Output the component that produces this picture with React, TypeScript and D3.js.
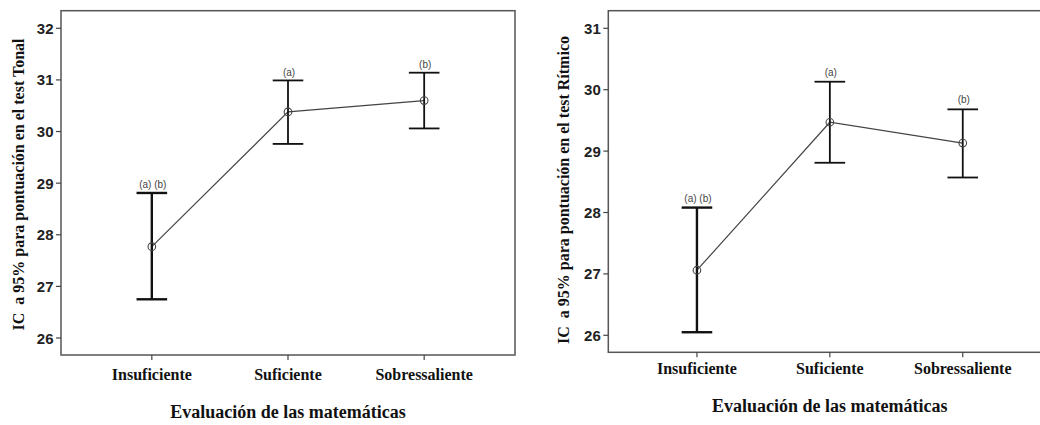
import React from "react";
import * as d3 from "d3";

const categories = ["Insuficiente", "Suficiente", "Sobressaliente"];

// Tonal test
const tonalMean = [27.77, 30.38, 30.6];
const tonalLower = [26.75, 29.76, 30.06];
const tonalUpper = [28.81, 30.99, 31.14];
const tonalLabels = ["(a) (b)", "(a)", "(b)"];
const tonalTicks = [26, 27, 28, 29, 30, 31, 32];

// Rhythmic test
const ritmoMean = [27.06, 29.47, 29.13];
const ritmoLower = [26.05, 28.81, 28.57];
const ritmoUpper = [28.08, 30.13, 29.68];
const ritmoLabels = ["(a) (b)", "(a)", "(b)"];
const ritmoTicks = [26, 27, 28, 29, 30, 31];

const xTitle = "Evaluación de las matemáticas";
const yTitleTonal = "IC  a 95% para pontuación en el test Tonal";
const yTitleRitmo = "IC  a 95% para pontuación en el test Rítmico";

const SERIF = "'Liberation Serif', 'Times New Roman', serif";
const SANS = "'Liberation Sans', Arial, sans-serif";

type PanelProps = {
  left: number;
  right: number;
  top: number;
  bottom: number;
  yDomain: [number, number];
  yRange: [number, number];
  ticks: number[];
  mean: number[];
  lower: number[];
  upper: number[];
  labels: string[];
  labelOffset: number;
  yTitle: string;
  yTitleX: number;
  yTitleY: number;
  xLabelY: number;
  xTitleY: number;
};

function Panel(p: PanelProps) {
  const x = d3.scalePoint<string>().domain(categories).range([p.left, p.right]).padding(0.667);
  const y = d3.scaleLinear().domain(p.yDomain).range(p.yRange);
  const line = d3
    .line<number>()
    .x((_, i) => x(categories[i]) as number)
    .y((d) => y(d));
  const cap = 15.3;
  const xMid = (p.left + p.right) / 2;
  return (
    <g>
      <rect
        x={p.left}
        y={p.top}
        width={p.right - p.left}
        height={p.bottom - p.top}
        fill="none"
        stroke="#555"
        strokeWidth={1.5}
      />
      {p.ticks.map((t) => (
        <g key={t}>
          <line x1={p.left - 5} x2={p.left} y1={y(t)} y2={y(t)} stroke="#444" strokeWidth={1.2} />
          <text
            x={p.left - 7.5}
            y={y(t)}
            textAnchor="end"
            dominantBaseline="central"
            fontFamily={SANS}
            fontWeight="bold"
            fontSize={15}
            fill="#222"
          >
            {t}
          </text>
        </g>
      ))}
      {categories.map((c) => (
        <g key={c}>
          <line x1={x(c)} x2={x(c)} y1={p.bottom} y2={p.bottom + 5} stroke="#444" strokeWidth={1.2} />
          <text
            x={x(c)}
            y={p.xLabelY}
            textAnchor="middle"
            fontFamily={SERIF}
            fontWeight="bold"
            fontSize={16}
            fill="#111"
          >
            {c}
          </text>
        </g>
      ))}
      <path d={line(p.mean) || ""} fill="none" stroke="#444" strokeWidth={1.2} />
      {categories.map((c, i) => {
        const cx = x(c) as number;
        const sw = i === 0 ? 2.4 : 1.8;
        return (
          <g key={c}>
            <line x1={cx} x2={cx} y1={y(p.upper[i])} y2={y(p.lower[i])} stroke="#111" strokeWidth={sw} />
            <line x1={cx - cap} x2={cx + cap} y1={y(p.upper[i])} y2={y(p.upper[i])} stroke="#111" strokeWidth={sw} />
            <line x1={cx - cap} x2={cx + cap} y1={y(p.lower[i])} y2={y(p.lower[i])} stroke="#111" strokeWidth={sw} />
            <circle cx={cx} cy={y(p.mean[i])} r={3.8} fill="none" stroke="#444" strokeWidth={1.1} />
            <text
              x={cx + 1}
              y={y(p.upper[i]) - p.labelOffset}
              textAnchor="middle"
              dominantBaseline="central"
              fontFamily={SANS}
              fontSize={10}
              fill="#444"
            >
              {p.labels[i]}
            </text>
          </g>
        );
      })}
      <text
        x={xMid}
        y={p.xTitleY}
        textAnchor="middle"
        fontFamily={SERIF}
        fontWeight="bold"
        fontSize={18}
        fill="#111"
      >
        {xTitle}
      </text>
      <text
        transform={`translate(${p.yTitleX},${p.yTitleY}) rotate(-90)`}
        textAnchor="middle"
        dominantBaseline="central"
        fontFamily={SERIF}
        fontWeight="bold"
        fontSize={16}
        fill="#111"
        style={{ whiteSpace: "pre" }}
      >
        {p.yTitle}
      </text>
    </g>
  );
}

export default function App() {
  return (
    <svg
      width={1040}
      height={425}
      style={{ position: "absolute", left: 0, top: 0, background: "#fff" }}
    >
      <rect x={0} y={0} width={1040} height={425} fill="#fff" />
      <Panel
        left={61}
        right={515}
        top={10.7}
        bottom={355}
        yDomain={[26, 32]}
        yRange={[338, 28.3]}
        ticks={tonalTicks}
        mean={tonalMean}
        lower={tonalLower}
        upper={tonalUpper}
        labels={tonalLabels}
        labelOffset={8}
        yTitle={yTitleTonal}
        yTitleX={18}
        yTitleY={184.5}
        xLabelY={380}
        xTitleY={418}
      />
      <Panel
        left={608.3}
        right={1051.4}
        top={10.7}
        bottom={352.3}
        yDomain={[26, 31]}
        yRange={[335.3, 28.3]}
        ticks={ritmoTicks}
        mean={ritmoMean}
        lower={ritmoLower}
        upper={ritmoUpper}
        labels={ritmoLabels}
        labelOffset={9.5}
        yTitle={yTitleRitmo}
        yTitleX={563.3}
        yTitleY={190}
        xLabelY={374}
        xTitleY={412}
      />
    </svg>
  );
}
